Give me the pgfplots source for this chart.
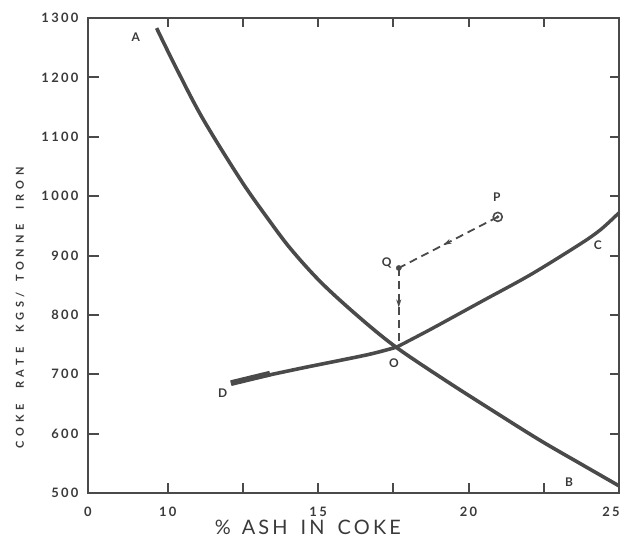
\documentclass[border=0pt]{standalone}
\usepackage{fontspec}
\setmainfont{Lato}
\usepackage{pgfplots}
\pgfplotsset{compat=1.18}
\usetikzlibrary{decorations.markings, arrows.meta}
\definecolor{ink}{HTML}{4A4A4A}
\definecolor{txt}{HTML}{3A3A3A}

\begin{document}
\begin{tikzpicture}
\begin{axis}[
    name=ax,
    tk/.style={ink, line width=2bp, forget plot},
    scale only axis,
    width=531bp, height=475bp,
    xmin=7.35, xmax=25,
    ymin=500, ymax=1300,
    xtick={7.35,10,15,20,25},
    xticklabels={0,10,15,20,\hspace*{-16bp}25},
    ytick={500,600,...,1300},
    axis line style={ink, line width=2.2bp},
    /pgf/number format/assume math mode=true,
    /pgf/number format/1000 sep={},
    ticklabel style={font=\fontsize{13}{15}\selectfont\bfseries\addfontfeatures{LetterSpace=18}, text=txt},
    yticklabel style={xshift=-6bp},
    xticklabel style={yshift=-11bp},
    xlabel={\%\hspace{11bp}ASH\hspace{13bp}IN\hspace{13bp}COKE},
    xlabel style={font=\fontsize{20}{22}\selectfont\addfontfeatures{LetterSpace=16}, text=txt,
                  at={(axis description cs:0.414,-0.072)}, anchor=center},
    ylabel={COKE\hspace{15bp}RATE\hspace{15bp}KGS/\hspace{10bp}TONNE\hspace{15bp}IRON},
    ylabel style={font=\fontsize{11}{13}\selectfont\bfseries\addfontfeatures{LetterSpace=44}, text=txt,
                  at={(axis description cs:-0.128,0.39)}, anchor=center},
    clip=false
]
% tick marks pointing into the frame
\addplot[tk] coordinates {(7.35,600) (7.72,600)};
\addplot[tk] coordinates {(7.35,700) (7.72,700)};
\addplot[tk] coordinates {(7.35,800) (7.72,800)};
\addplot[tk] coordinates {(7.35,900) (7.72,900)};
\addplot[tk] coordinates {(7.35,1000) (7.72,1000)};
\addplot[tk] coordinates {(7.35,1100) (7.72,1100)};
\addplot[tk] coordinates {(7.35,1200) (7.72,1200)};
\addplot[tk] coordinates {(25,600) (24.70,600)};
\addplot[tk] coordinates {(25,700) (24.70,700)};
\addplot[tk] coordinates {(25,800) (24.70,800)};
\addplot[tk] coordinates {(25,900) (24.70,900)};
\addplot[tk] coordinates {(25,1000) (24.70,1000)};
\addplot[tk] coordinates {(25,1100) (24.70,1100)};
\addplot[tk] coordinates {(25,1200) (24.70,1200)};
\addplot[tk] coordinates {(10,500) (10,517)};
\addplot[tk] coordinates {(12.5,500) (12.5,517)};
\addplot[tk] coordinates {(15,500) (15,517)};
\addplot[tk] coordinates {(17.5,500) (17.5,517)};
\addplot[tk] coordinates {(20,500) (20,517)};
\addplot[tk] coordinates {(22.5,500) (22.5,517)};
\addplot[tk] coordinates {(10,1300) (10,1285)};
\addplot[tk] coordinates {(12.5,1300) (12.5,1285)};
\addplot[tk] coordinates {(15,1300) (15,1285)};
\addplot[tk] coordinates {(17.5,1300) (17.5,1285)};
\addplot[tk] coordinates {(20,1300) (20,1285)};
\addplot[tk] coordinates {(22.5,1300) (22.5,1285)};

% curve A-B
\addplot[ink, line width=3.6bp, smooth, tension=0.55] coordinates {
    (9.63,1283) (10.27,1217) (11.16,1131) (12.43,1027)
    (13.33,962) (14.09,911) (15.09,855) (16.32,798) (17.58,746)
    (19.25,689) (20.98,633) (22.40,588) (23.73,549) (25.00,512)};
% curve D-O
\addplot[ink, line width=3.6bp, smooth, tension=0.5] coordinates {
    (12.10,685) (14.42,710) (16.65,733) (17.62,746)};
% curve O-C
\addplot[ink, line width=3.4bp, smooth, tension=0.5] coordinates {
    (17.62,746) (18.75,776) (20.41,822) (22.07,868) (23.73,920) (24.40,944) (25.00,972)};
% thicker start near D
\addplot[ink, line width=5.8bp] coordinates {(12.10,685) (13.40,701)};

% dashed path P -> Q -> O
\addplot[ink, line width=1.8bp, dash pattern=on 8bp off 5bp,
    postaction={decorate},
    decoration={markings, mark=at position 0.55 with {\arrow[solid]{Stealth[length=8bp,width=5bp]}}}]
    coordinates {(20.97,965) (17.68,879)};
\addplot[ink, line width=1.8bp, dash pattern=on 8bp off 5bp,
    postaction={decorate},
    decoration={markings, mark=at position 0.5 with {\arrow[solid]{Stealth[length=8bp,width=5bp]}}}]
    coordinates {(17.68,879) (17.68,746)};

% points P and Q
\addplot[ink, only marks, mark=o, mark size=4.5bp, mark options={line width=1.6bp, fill=white}]
    coordinates {(20.97,965)};
\addplot[ink, only marks, mark=*, mark size=1.4bp] coordinates {(20.97,965)};
\addplot[ink, only marks, mark=*, mark size=2.6bp] coordinates {(17.68,879)};

% letters
\begin{scope}[every node/.style={font=\fontsize{12}{14}\selectfont\bfseries, text=txt}]
\node at (axis cs:8.94,1268) {A};
\node at (axis cs:23.34,519) {B};
\node at (axis cs:24.30,918) {C};
\node at (axis cs:11.83,668) {D};
\node at (axis cs:17.52,719) {O};
\node at (axis cs:20.94,999) {P};
\node at (axis cs:17.28,887) {Q};
\end{scope}
\end{axis}
\pgfresetboundingbox
\path[use as bounding box] ([shift={(-88bp,-56bp)}]ax.south west)
    rectangle ([shift={(536bp,493bp)}]ax.south west);
\end{tikzpicture}
\end{document}
